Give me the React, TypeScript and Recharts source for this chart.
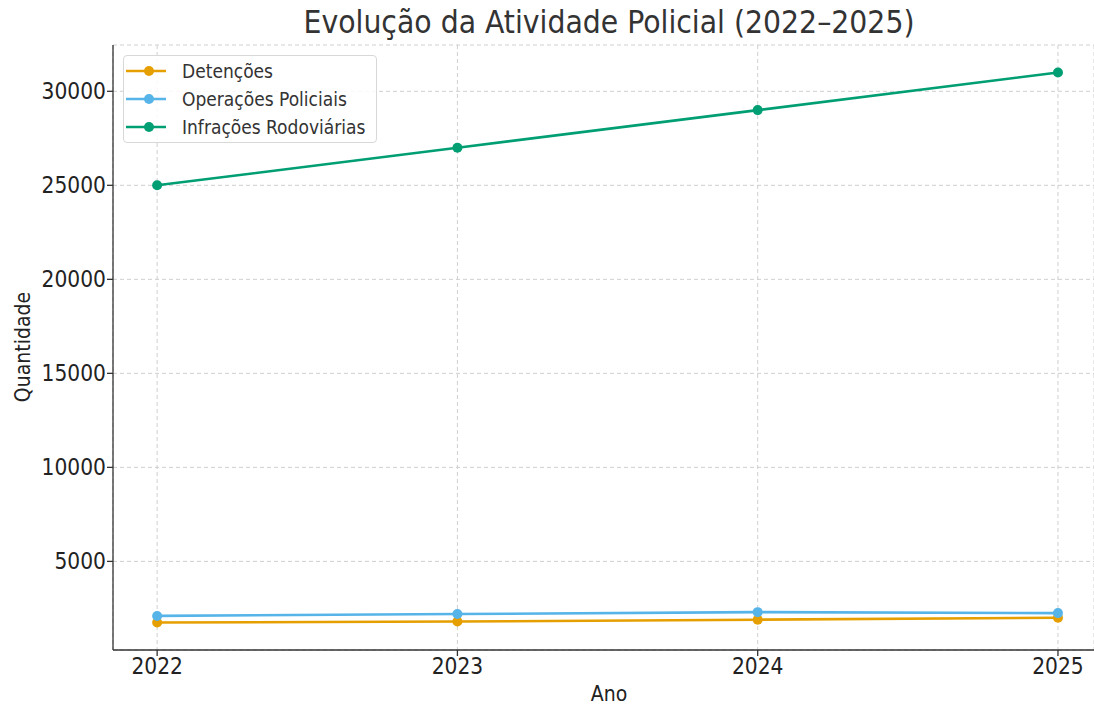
import React from 'react'
import { LineChart, Line, XAxis, YAxis, CartesianGrid } from 'recharts'

const years = [2022, 2023, 2024, 2025]
const detencoes = [1750, 1800, 1900, 2000]
const operacoes = [2100, 2200, 2300, 2250]
const infracoes = [25000, 27000, 29000, 31000]
const yTicks = [5000, 10000, 15000, 20000, 25000, 30000]

const series = [
  { key: 'detencoes', name: 'Detenções', color: '#E69F00' },
  { key: 'operacoes', name: 'Operações Policiais', color: '#56B4E9' },
  { key: 'infracoes', name: 'Infrações Rodoviárias', color: '#009E73' },
]

const data = years.map((ano, i) => ({
  ano,
  detencoes: detencoes[i],
  operacoes: operacoes[i],
  infracoes: infracoes[i],
}))

const font = '"DejaVu Sans Condensed", "DejaVu Sans", sans-serif'
const axisColor = '#333'

export default function App() {
  return (
    <div style={{ position: 'relative', width: 1094, height: 704, background: '#fff', fontFamily: font }}>
      <style>{'body { margin: 0; }'}</style>
      <div
        style={{
          position: 'absolute',
          left: 0,
          width: 1218,
          top: 4,
          textAlign: 'center',
          fontSize: 31.5,
          color: '#333',
        }}
      >
        Evolução da Atividade Policial (2022–2025)
      </div>

      <LineChart width={1094} height={704} data={data} margin={{ top: 45, right: 0, bottom: 0, left: 0 }}>
        <CartesianGrid strokeDasharray="4 3" stroke="#cfcfcf" />
        <XAxis
          dataKey="ano"
          type="number"
          domain={[2021.853, 2025.12]}
          allowDataOverflow
          ticks={years}
          height={54}
          tickSize={6}
          tickMargin={2}
          stroke={axisColor}
          strokeWidth={1.3}
          tick={{ fill: '#222', fontSize: 22.5, fontFamily: font }}
        />
        <YAxis
          type="number"
          domain={[287.5, 32462.5]}
          allowDataOverflow
          ticks={yTicks}
          width={113}
          tickSize={6}
          tickMargin={1}
          stroke={axisColor}
          strokeWidth={1.3}
          tick={{ fill: '#222', fontSize: 22.5, fontFamily: font }}
        />
        {series.map((s) => (
          <Line
            key={s.key}
            dataKey={s.key}
            name={s.name}
            type="linear"
            stroke={s.color}
            strokeWidth={2.6}
            dot={{ r: 5, fill: s.color, stroke: s.color, strokeWidth: 0 }}
            isAnimationActive={false}
          />
        ))}
      </LineChart>

      <div
        style={{
          position: 'absolute',
          left: 23,
          top: 347,
          transform: 'translate(-50%, -50%) rotate(-90deg)',
          fontSize: 21,
          lineHeight: 1,
          color: '#222',
          whiteSpace: 'nowrap',
        }}
      >
        Quantidade
      </div>

      <div
        style={{
          position: 'absolute',
          left: 0,
          width: 1218,
          top: 684,
          textAlign: 'center',
          fontSize: 21,
          lineHeight: 1,
          color: '#222',
        }}
      >
        Ano
      </div>

      <div
        style={{
          position: 'absolute',
          left: 123,
          top: 55,
          width: 254,
          height: 88,
          boxSizing: 'border-box',
          border: '1px solid #d8d8d8',
          borderRadius: 4,
          background: 'rgba(255,255,255,0.85)',
          padding: '1px 0 0 2px',
        }}
      >
        {series.map((s) => (
          <div key={s.key} style={{ display: 'flex', alignItems: 'center', height: 28 }}>
            <svg width={40} height={14}>
              <line x1={0} y1={7} x2={40} y2={7} stroke={s.color} strokeWidth={2.6} />
              <circle cx={23} cy={7} r={5} fill={s.color} />
            </svg>
            <span style={{ marginLeft: 16, fontSize: 19, color: '#333' }}>{s.name}</span>
          </div>
        ))}
      </div>
    </div>
  )
}
